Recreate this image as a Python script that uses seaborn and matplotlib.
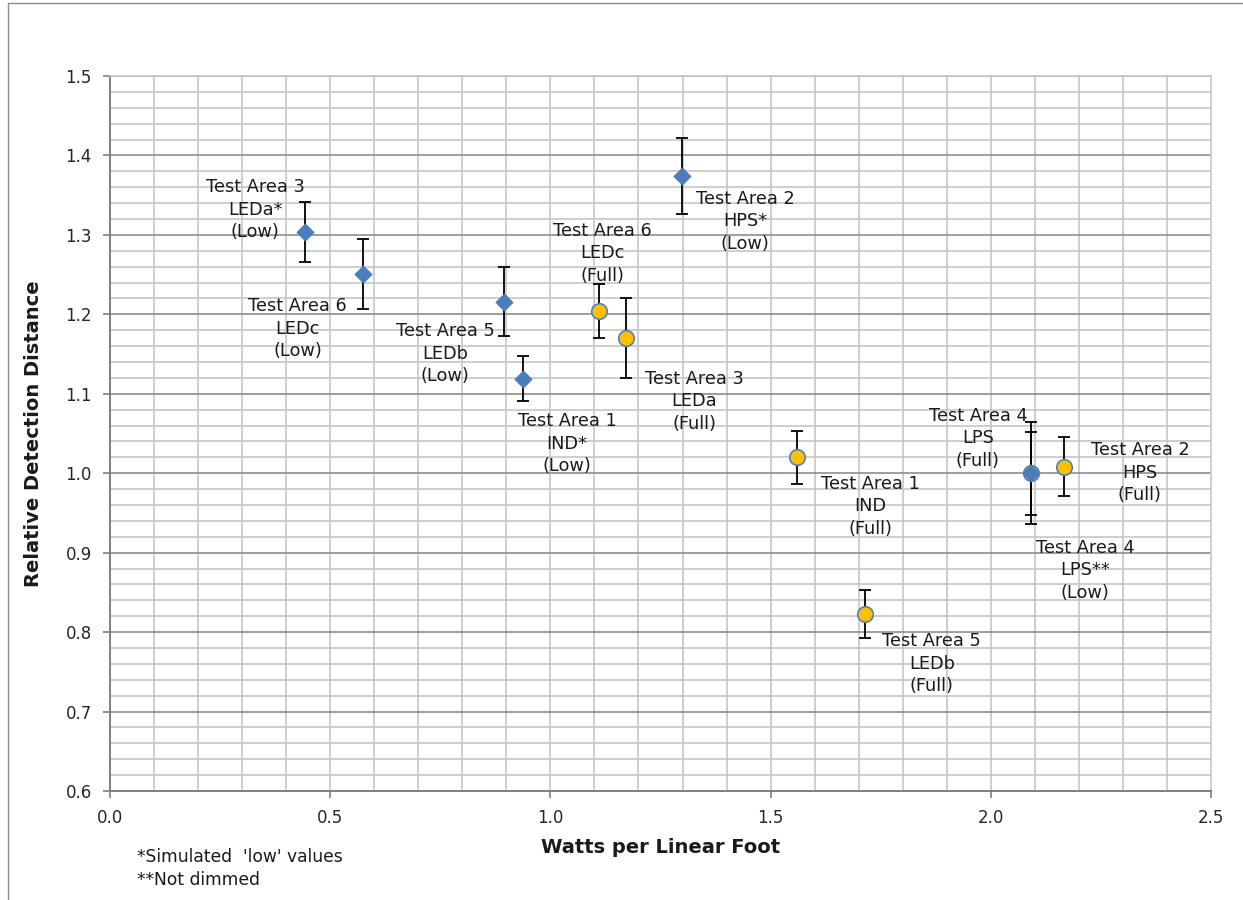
import numpy as np
import pandas as pd
import matplotlib
matplotlib.use("Agg")
import matplotlib.pyplot as plt
from matplotlib.patches import Rectangle
import seaborn as sns

# Reduced-lighting ("Low") measurements
low_watts = [0.443, 0.574, 0.895, 0.938, 1.299, 2.091]
low_distance = [1.304, 1.251, 1.216, 1.119, 1.374, 1.000]
low_error = [0.038, 0.044, 0.043, 0.028, 0.048, 0.064]
low_labels = [
    "Test Area 3\nLEDa*\n(Low)",
    "Test Area 6\nLEDc\n(Low)",
    "Test Area 5\nLEDb\n(Low)",
    "Test Area 1\nIND*\n(Low)",
    "Test Area 2\nHPS*\n(Low)",
    "Test Area 4\nLPS**\n(Low)",
]

# Full-lighting measurements
full_watts = [1.110, 1.172, 1.560, 1.714, 2.166, 2.091]
full_distance = [1.204, 1.170, 1.020, 0.823, 1.008, 1.000]
full_error = [0.034, 0.050, 0.033, 0.030, 0.037, 0.052]
full_labels = [
    "Test Area 6\nLEDc\n(Full)",
    "Test Area 3\nLEDa\n(Full)",
    "Test Area 1\nIND\n(Full)",
    "Test Area 5\nLEDb\n(Full)",
    "Test Area 2\nHPS\n(Full)",
    "Test Area 4\nLPS\n(Full)",
]

# label placement (pixel offsets from each marker)
low_offsets = [(-50, 22), (-65, -55), (-59, -52), (44, -65), (63, -45), (54, -97)]
full_offsets = [(4, 58), (68, -63), (73, -49), (67, -50), (76, -6), (-53, 35)]

low = pd.DataFrame({"watts": low_watts, "distance": low_distance,
                    "err": low_error, "label": low_labels})
full = pd.DataFrame({"watts": full_watts, "distance": full_distance,
                     "err": full_error, "label": full_labels})

sns.set_theme(style="white")
plt.rcParams["font.family"] = ["DejaVu Sans"]

fig = plt.figure(figsize=(12.43, 9.0), dpi=100)
ax = fig.add_axes([110 / 1243, 1 - 791 / 900, (1211 - 110) / 1243, (791 - 76) / 900])

# outer chart frame
fig.patches.append(Rectangle((8 / 1243, -0.05), 1.2, 1 - 3 / 900 + 0.05,
                             transform=fig.transFigure, fill=False,
                             edgecolor="#8c8c8c", linewidth=1.0, zorder=0))

ax.set_xlim(0, 2.5)
ax.set_ylim(0.6, 1.5)

# grid: vertical lines every 0.1, horizontal minor every 0.02, major every 0.1
for xv in np.arange(0.1, 2.5, 0.1):
    ax.axvline(xv, color="#c6c6c6", linewidth=1.2, zorder=0)
for yv in np.arange(0.62, 1.5, 0.02):
    if abs(round(yv * 50) % 5) == 0:
        continue
    ax.axhline(yv, color="#c6c6c6", linewidth=1.2, zorder=0)
for yv in np.arange(0.7, 1.55, 0.1):
    ax.axhline(yv, color="#8e8e8e", linewidth=1.2, zorder=0)

ax.errorbar(full["watts"], full["distance"], yerr=full["err"], fmt="none",
            ecolor="black", elinewidth=1.3, capsize=4.5, capthick=1.3, zorder=2)
ax.errorbar(low["watts"], low["distance"], yerr=low["err"], fmt="none",
            ecolor="black", elinewidth=1.3, capsize=4.5, capthick=1.3, zorder=2)

sns.scatterplot(data=full, x="watts", y="distance", ax=ax, marker="o", s=125,
                color="#FFC000", edgecolor="#4F81BD", linewidth=1.2, zorder=3,
                legend=False)
sns.scatterplot(data=low, x="watts", y="distance", ax=ax, marker="D", s=78,
                color="#4A7EBB", edgecolor="#4A7EBB", linewidth=0.5, zorder=4,
                legend=False)

for df, offs in ((low, low_offsets), (full, full_offsets)):
    for (_, row), (dx, dy) in zip(df.iterrows(), offs):
        ax.annotate(row["label"], (row["watts"], row["distance"]),
                    xytext=(dx, dy), textcoords="offset pixels",
                    ha="center", va="center", fontsize=12.8,
                    linespacing=1.32, color="#1a1a1a", zorder=5)

ax.set_xticks(np.arange(0, 2.51, 0.5))
ax.set_xticklabels([f"{v:.1f}" for v in np.arange(0, 2.51, 0.5)])
ax.set_yticks(np.arange(0.6, 1.51, 0.1))
ax.set_yticklabels([f"{v:.1f}" for v in np.arange(0.6, 1.51, 0.1)])
ax.tick_params(axis="both", which="major", direction="out", length=5,
               width=1.2, color="#7f7f7f", labelsize=12, labelcolor="#262626",
               left=True, bottom=True, pad=8)

for side in ("left", "bottom"):
    ax.spines[side].set_color("#7f7f7f")
    ax.spines[side].set_linewidth(1.4)
for side in ("top", "right"):
    ax.spines[side].set_color("#c6c6c6")
    ax.spines[side].set_linewidth(1.2)

ax.set_xlabel("Watts per Linear Foot", fontsize=14, fontweight="bold",
              color="#1a1a1a", labelpad=8)
ax.set_ylabel("Relative Detection Distance", fontsize=14, fontweight="bold",
              color="#1a1a1a", labelpad=16)

fig.text(137 / 1243, 1 - 857 / 900, "*Simulated  'low' values", fontsize=12.3,
         color="#1a1a1a", va="center", ha="left")
fig.text(137 / 1243, 1 - 880 / 900, "**Not dimmed", fontsize=12.3,
         color="#1a1a1a", va="center", ha="left")

fig.savefig("out.png", dpi=100)
